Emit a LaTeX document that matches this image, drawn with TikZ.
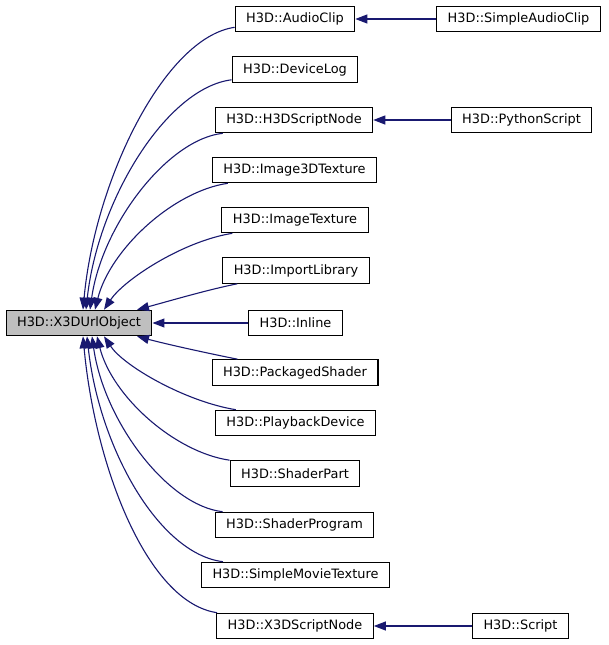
\documentclass[tikz,border=0pt]{standalone}
\usepackage{fontspec}
\setmainfont{DejaVu Sans}
\usetikzlibrary{arrows, arrows.meta}

\begin{document}
\begin{tikzpicture}[x=1pt, y=-1pt,
    cls/.style={rectangle, draw=black, line width=1.1pt, fill=white, inner xsep=11pt, inner ysep=0pt, minimum height=25.5pt, font=\fontsize{12.9}{15}\selectfont},
    base/.style={cls, fill=black!25},
    edge/.style={draw={rgb,255:red,25;green,25;blue,112}, line width=1.1pt, -{Triangle[length=12pt, width=9pt]}}]
        \useasboundingbox (0,0) rectangle (609,645);

        \node[base] (0) at (79,323) {H3D::X3DUrlObject};

        \node[cls] (1) at (295,19) {H3D::AudioClip};
        \node[cls] (2) at (295,69.5) {H3D::DeviceLog};
        \node[cls] (3) at (294,120) {H3D::H3DScriptNode};
        \node[cls] (4) at (294.5,170) {H3D::Image3DTexture};
        \node[cls] (5) at (295,220) {H3D::ImageTexture};
        \node[cls] (6) at (296,270.5) {H3D::ImportLibrary};
        \node[cls] (7) at (295.5,323) {H3D::Inline};
        \node[cls] (8) at (295,372.5) {H3D::PackagedShader};
        \node[cls] (9) at (295.5,423) {H3D::PlaybackDevice};
        \node[cls] (10) at (295,473.5) {H3D::ShaderPart};
        \node[cls] (11) at (294.5,525) {H3D::ShaderProgram};
        \node[cls] (12) at (295.5,575) {H3D::SimpleMovieTexture};
        \node[cls] (13) at (295,626) {H3D::X3DScriptNode};

        \node[cls] (14) at (518.5,19) {H3D::SimpleAudioClip};
        \node[cls] (15) at (521.5,120) {H3D::PythonScript};
        \node[cls] (16) at (520.5,626) {H3D::Script};

        \draw[edge] ([yshift=5pt]1.south west) .. controls +(-70,10) and +(12,-130) .. ([xshift=4pt]0.north);
        \draw[edge] ([yshift=3pt]2.south west) .. controls +(-65,8) and +(12,-110) .. ([xshift=7pt]0.north);
        \draw[edge] ([xshift=8pt]3.south west) .. controls +(-55,6) and +(12,-85) .. ([xshift=11pt]0.north);
        \draw[edge] ([xshift=16pt]4.south west) .. controls +(-55,8) and +(15,-60) .. ([xshift=16pt]0.north);
        \draw[edge] ([xshift=11pt]5.south west) .. controls +(-50,8) and +(20,-30) .. ([xshift=25pt]0.north);
        \draw[edge] ([xshift=15pt]6.south west) .. controls +(-30,6) and +(30,-8) .. ([xshift=58pt]0.north);
        \draw[edge] (7.west) -- (0.east);
        \draw[edge] ([xshift=26pt]8.north west) .. controls +(-30,-6) and +(30,8) .. ([xshift=58pt]0.south);
        \draw[edge] ([xshift=21pt]9.north west) .. controls +(-50,-8) and +(20,30) .. ([xshift=25pt]0.south);
        \draw[edge] (10.north west) .. controls +(-55,-8) and +(15,60) .. ([xshift=18pt]0.south);
        \draw[edge] ([xshift=8pt]11.north west) .. controls +(-55,-6) and +(12,85) .. ([xshift=13pt]0.south);
        \draw[edge] ([xshift=22pt]12.north west) .. controls +(-65,-8) and +(12,110) .. ([xshift=8pt]0.south);
        \draw[edge] ([xshift=1pt]13.north west) .. controls +(-70,-10) and +(12,130) .. ([xshift=4pt]0.south);

        \draw[edge] (14.west) -- (1.east);
        \draw[edge] (15.west) -- (3.east);
        \draw[edge] (16.west) -- (13.east);
      \end{tikzpicture}
\end{document}
